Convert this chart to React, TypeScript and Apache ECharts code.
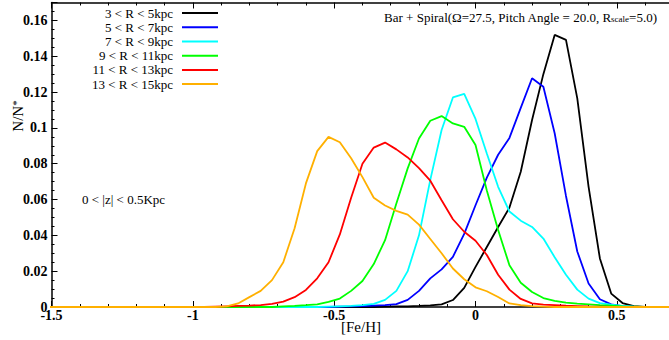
import React, { useEffect, useRef } from "react";
import * as echarts from "echarts";

const FONT = "Liberation Serif";

// [Fe/H] bin centres
const FEH = [
  -1.52, -1.48, -1.44, -1.4, -1.36, -1.32, -1.28, -1.24, -1.2, -1.16, -1.12, -1.08, -1.04,
  -1.0, -0.96, -0.92, -0.88, -0.84, -0.8, -0.76, -0.72, -0.68, -0.64, -0.6, -0.56, -0.52,
  -0.48, -0.44, -0.4, -0.36, -0.32, -0.28, -0.24, -0.2, -0.16, -0.12, -0.08, -0.04, 0.0,
  0.04, 0.08, 0.12, 0.16, 0.2, 0.24, 0.28, 0.32, 0.36, 0.4, 0.44, 0.48, 0.52, 0.56, 0.6,
  0.64, 0.68, 0.72,
];

const NAMES = [
  "3 < R < 5kpc",
  "5 < R < 7kpc",
  "7 < R < 9kpc",
  "9 < R < 11kpc",
  "11 < R < 13kpc",
  "13 < R < 15kpc",
];
const COLORS = ["#000000", "#0000ff", "#00ffff", "#00ff00", "#ff0000", "#ffb000"];

// 3 < R < 5
const R3_5 = [
  0, 0, 0, 0, 0, 0, 0, 0, 0, 0, 0, 0, 0, 0, 0, 0, 0, 0, 0, 0, 0, 0, 0, 0, 0, 0, 0, 0, 0, 0,
  0.0002, 0.0003, 0.0004, 0.0006, 0.0009, 0.0015, 0.0039, 0.0107, 0.0224, 0.0335, 0.0447,
  0.0555, 0.0755, 0.1044, 0.13, 0.1519, 0.1491, 0.1165, 0.0671, 0.0271, 0.0075, 0.0022,
  0.0005, 0, 0, 0, 0,
];
// 5 < R < 7
const R5_7 = [
  0, 0, 0, 0, 0, 0, 0, 0, 0, 0, 0, 0, 0, 0, 0, 0, 0, 0, 0, 0, 0, 0, 0, 0, 0, 0,
  0.0002, 0.0003, 0.0005, 0.0008, 0.001, 0.0016, 0.004, 0.009, 0.016, 0.021, 0.028, 0.0408,
  0.0568, 0.0722, 0.085, 0.0944, 0.1112, 0.1277, 0.123, 0.097, 0.062, 0.031, 0.0131, 0.0043,
  0.0015, 0.0005, 0.0002, 0, 0, 0, 0,
];
// 7 < R < 9
const R7_9 = [
  0, 0, 0, 0, 0, 0, 0, 0, 0, 0, 0, 0, 0, 0, 0, 0, 0, 0, 0, 0, 0, 0, 0, 0, 0,
  0.0002, 0.0004, 0.0006, 0.001, 0.0018, 0.004, 0.009, 0.02, 0.04, 0.071, 0.0988, 0.117,
  0.119, 0.105, 0.0857, 0.0671, 0.0533, 0.0482, 0.0447, 0.0382, 0.0278, 0.018, 0.0097,
  0.0047, 0.0022, 0.0013, 0.0006, 0.0002, 0, 0, 0, 0,
];
// 9 < R < 11
const R9_11 = [
  0, 0, 0, 0, 0, 0, 0, 0, 0, 0, 0, 0, 0, 0, 0, 0, 0, 0, 0, 0, 0,
  0.0003, 0.0006, 0.001, 0.0015, 0.0028, 0.0047, 0.009, 0.0145, 0.024, 0.0373, 0.0578,
  0.0774, 0.0941, 0.104, 0.1066, 0.1025, 0.1006, 0.0904, 0.065, 0.043, 0.0233, 0.0135,
  0.0084, 0.005, 0.0034, 0.0025, 0.0019, 0.0015, 0.001, 0.0007, 0.0004, 0.0002, 0, 0, 0, 0,
];
// 11 < R < 13
const R11_13 = [
  0, 0, 0, 0, 0, 0, 0, 0, 0, 0, 0, 0, 0, 0, 0,
  0.0002, 0.0004, 0.0006, 0.0008, 0.0011, 0.0017, 0.003, 0.0055, 0.0095, 0.016, 0.025,
  0.0405, 0.061, 0.08, 0.089, 0.0918, 0.088, 0.0835, 0.0775, 0.0705, 0.0596, 0.049, 0.042,
  0.037, 0.029, 0.018, 0.0097, 0.0045, 0.002, 0.0013, 0.001, 0.0007, 0.0005, 0.0003, 0.0002,
  0, 0, 0, 0, 0, 0, 0,
];
// 13 < R < 15
const R13_15 = [
  0, 0, 0, 0, 0, 0, 0, 0, 0, 0, 0, 0, 0, 0, 0, 0,
  0.0003, 0.002, 0.0055, 0.009, 0.015, 0.025, 0.044, 0.069, 0.087, 0.095, 0.092, 0.083,
  0.0725, 0.061, 0.0567, 0.0537, 0.0516, 0.046, 0.038, 0.03, 0.0215, 0.0155, 0.011, 0.0088,
  0.0056, 0.002, 0.001, 0.0005, 0.0002, 0, 0, 0, 0, 0, 0, 0, 0, 0, 0, 0, 0,
];

const SERIES_VALUES = [R3_5, R5_7, R7_9, R9_11, R11_13, R13_15];

const X_MIN = -1.5;
const X_MAX = 1.0;
const Y_MAX = 0.17;

export default function App() {
  const ref = useRef<HTMLDivElement>(null);

  useEffect(() => {
    if (!ref.current) return;
    const chart = echarts.init(ref.current, undefined, { renderer: "svg" });

    const axisLineStyle = { color: "#000", width: 1.5 };
    const xCommon = {
      type: "value" as const,
      min: X_MIN,
      max: X_MAX,
      interval: 0.5,
      splitLine: { show: false },
      axisLine: { show: true, lineStyle: axisLineStyle, onZero: false },
      axisTick: { show: true, inside: true, length: 6, lineStyle: { color: "#000", width: 1 } },
      minorTick: { show: true, splitNumber: 5, length: 3, lineStyle: { color: "#000", width: 1 } },
    };

    chart.setOption({
      animation: false,
      backgroundColor: "#ffffff",
      grid: {
        left: 51.5,
        width: 706.7,
        top: 2.5,
        height: 304.5,
        containLabel: false,
        outerBoundsMode: "none",
      },
      legend: {
        orient: "vertical",
        right: 451,
        top: 6,
        padding: 0,
        align: "right",
        itemWidth: 36,
        itemHeight: 2,
        itemGap: 0,
        icon: "rect",
        data: NAMES,
        textStyle: {
          fontFamily: FONT,
          fontSize: 13,
          lineHeight: 14.2,
          color: "#000",
          padding: [0, 4, 0, 0],
        },
      },
      xAxis: [
        {
          ...xCommon,
          position: "bottom",
          axisLabel: {
            fontFamily: FONT,
            fontSize: 14,
            fontWeight: "bold",
            color: "#000",
            margin: 1,
            showMaxLabel: false,
          },
        },
        {
          ...xCommon,
          position: "top",
          axisLabel: { show: false },
        },
      ],
      yAxis: {
        type: "value",
        min: 0,
        max: Y_MAX,
        interval: 0.02,
        splitLine: { show: false },
        axisLine: { show: true, lineStyle: axisLineStyle, onZero: false },
        axisTick: { show: true, inside: true, length: 6, lineStyle: { color: "#000", width: 1 } },
        minorTick: { show: true, splitNumber: 4, length: 3, lineStyle: { color: "#000", width: 1 } },
        axisLabel: {
          fontFamily: FONT,
          fontSize: 14,
          fontWeight: "bold",
          color: "#000",
          margin: 4,
          showMaxLabel: false,
        },
      },
      series: NAMES.map((name, i) => ({
        name,
        type: "line",
        xAxisIndex: 0,
        data: FEH.map((x, j) => [x, SERIES_VALUES[i][j]]),
        showSymbol: false,
        symbol: "none",
        color: COLORS[i],
        lineStyle: { color: COLORS[i], width: 1.8 },
        itemStyle: { color: COLORS[i] },
        emphasis: { disabled: true },
        z: 2 + i,
      })),
      graphic: [
        {
          type: "text",
          x: 18,
          y: 116,
          rotation: Math.PI / 2,
          style: {
            text: "{a|N/N}{s|*}",
            align: "center",
            verticalAlign: "middle",
            rich: {
              a: { fontFamily: FONT, fontSize: 15, fill: "#000" },
              s: { fontFamily: FONT, fontSize: 11, fill: "#000", verticalAlign: "top" },
            },
          },
        },
        {
          type: "text",
          x: 361,
          y: 327,
          style: {
            text: "[Fe/H]",
            align: "center",
            verticalAlign: "middle",
            fontFamily: FONT,
            fontSize: 15,
            fill: "#000",
          },
        },
        {
          type: "text",
          x: 657,
          y: 17,
          style: {
            text: "{a|Bar + Spiral(Ω=27.5, Pitch Angle = 20.0, R}{b|scale}{a|=5.0)}",
            align: "right",
            verticalAlign: "middle",
            rich: {
              a: { fontFamily: FONT, fontSize: 13, fill: "#000" },
              b: { fontFamily: FONT, fontSize: 9, fill: "#000", verticalAlign: "bottom" },
            },
          },
        },
        {
          type: "text",
          x: 82,
          y: 199,
          style: {
            text: "0 < |z| < 0.5Kpc",
            align: "left",
            verticalAlign: "middle",
            fontFamily: FONT,
            fontSize: 13,
            fill: "#000",
          },
        },
      ],
    });

    return () => chart.dispose();
  }, []);

  return (
    <div
      ref={ref}
      style={{ position: "fixed", left: 0, top: 0, width: 669, height: 340, background: "#fff" }}
    />
  );
}
